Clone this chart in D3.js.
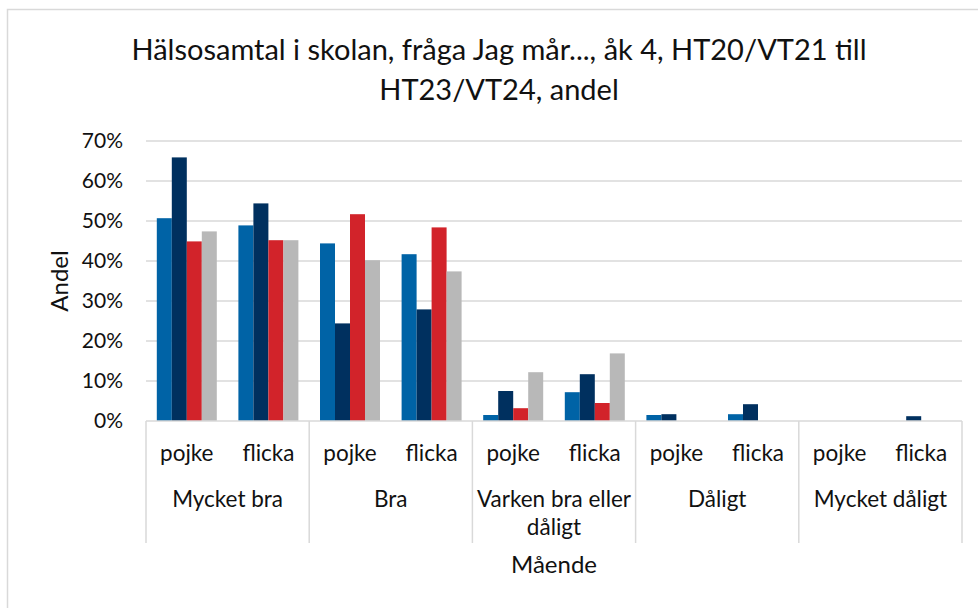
<!DOCTYPE html>
<html><head><meta charset="utf-8">
<script src="https://cdn.jsdelivr.net/npm/d3@7"></script>
<style>body{margin:0;background:#fff}svg{display:block;font-family:Lato,"Open Sans",sans-serif}</style>
</head><body><svg id="c" width="978" height="608"></svg>
<script>
const groups = ["Mycket bra", "Bra", "Varken bra eller dåligt", "Dåligt", "Mycket dåligt"];
const genders = ["pojke", "flicka"];
const seriesNames = ["HT20/VT21", "HT21/VT22", "HT22/VT23", "HT23/VT24"];
// values per series, order: group x gender (pojke, flicka)
const s1 = [50.7, 48.9, 44.4, 41.7, 1.5, 7.2, 1.5, 1.7, 0, 0];
const s2 = [65.9, 54.4, 24.4, 27.9, 7.5, 11.7, 1.7, 4.2, 0, 1.2];
const s3 = [44.9, 45.2, 51.7, 48.4, 3.2, 4.5, 0, 0, 0, 0];
const s4 = [47.4, 45.2, 40.2, 37.4, 12.2, 16.9, 0, 0, 0, 0];
const yTicks = [0, 10, 20, 30, 40, 50, 60, 70];
const colors = ["#0063a6", "#00305f", "#d2232a", "#b8b8b8"];
const title = ["Hälsosamtal i skolan, fråga Jag mår..., åk 4, HT20/VT21 till", "HT23/VT24, andel"];

const series = [s1, s2, s3, s4];
const svg = d3.select("#c");
const L = 146, R = 962, T = 141, B = 421;
const y = d3.scaleLinear().domain([0, 70]).range([B, T]);
const xg = d3.scaleBand().domain(groups).range([L, R]).padding(0);
const xs = d3.scaleBand().domain(genders).range([0, xg.bandwidth()]).padding(0);
const xb = d3.scaleBand().domain(seriesNames).range([0, xs.bandwidth()]).paddingInner(0).paddingOuter(0.72);

// border
svg.append("rect").attr("x", 7.5).attr("y", 9.5).attr("width", 1000).attr("height", 620)
  .attr("fill", "none").attr("stroke", "#d9d9d9").attr("stroke-width", 1.5);

// title
svg.append("g").selectAll("text").data(title).join("text")
  .attr("x", 499).attr("y", (d, i) => 60 + i * 40)
  .attr("text-anchor", "middle").attr("font-size", 29).attr("fill", "#111").text(d => d);

// gridlines
svg.append("g").selectAll("line").data(yTicks.filter(d => d > 0)).join("line")
  .attr("x1", L).attr("x2", R).attr("y1", d => y(d)).attr("y2", d => y(d))
  .attr("stroke", "#d9d9d9").attr("stroke-width", 1.5);

// y tick labels
svg.append("g").selectAll("text").data(yTicks).join("text")
  .attr("x", 123).attr("y", d => y(d)).attr("dy", "0.35em")
  .attr("text-anchor", "end").attr("font-size", 21).attr("fill", "#111").text(d => d + "%");

// bars
const rows = [];
groups.forEach((g, gi) => genders.forEach((s, si) => series.forEach((arr, k) => {
  rows.push({g, s, k, v: arr[gi * 2 + si]});
})));
svg.append("g").selectAll("rect").data(rows.filter(d => d.v > 0)).join("rect")
  .attr("x", d => xg(d.g) + xs(d.s) + xb(seriesNames[d.k]))
  .attr("width", xb.bandwidth())
  .attr("y", d => y(d.v)).attr("height", d => y(0) - y(d.v))
  .attr("fill", d => colors[d.k]);

// x axis line
svg.append("line").attr("x1", L).attr("x2", R).attr("y1", B).attr("y2", B)
  .attr("stroke", "#d9d9d9").attr("stroke-width", 1.5);
// group separators
const seps = groups.map(g => xg(g)).concat([R]);
svg.append("g").selectAll("line").data(seps).join("line")
  .attr("x1", d => d).attr("x2", d => d).attr("y1", B).attr("y2", 543)
  .attr("stroke", "#d9d9d9").attr("stroke-width", 1.5);

// gender labels
const gl = [];
groups.forEach(g => genders.forEach(s => gl.push({g, s})));
svg.append("g").selectAll("text").data(gl).join("text")
  .attr("x", d => xg(d.g) + xs(d.s) + xs.bandwidth() / 2).attr("y", 460.5)
  .attr("text-anchor", "middle").attr("font-size", 22.5).attr("fill", "#111").text(d => d.s);

// group labels (wrap long)
const wrap = {"Varken bra eller dåligt": ["Varken bra eller", "dåligt"]};
groups.forEach(g => {
  const lines = wrap[g] || [g];
  svg.append("g").selectAll("text").data(lines).join("text")
    .attr("x", xg(g) + xg.bandwidth() / 2).attr("y", (d, i) => 507 + i * 28)
    .attr("text-anchor", "middle").attr("font-size", 22.5).attr("fill", "#111").text(d => d);
});

// axis titles
svg.append("text").attr("x", 554).attr("y", 573).attr("text-anchor", "middle")
  .attr("font-size", 24).attr("fill", "#111").text("Mående");
svg.append("text").attr("transform", "translate(68,281) rotate(-90)").attr("text-anchor", "middle")
  .attr("font-size", 24).attr("fill", "#111").text("Andel");
</script></body></html>
